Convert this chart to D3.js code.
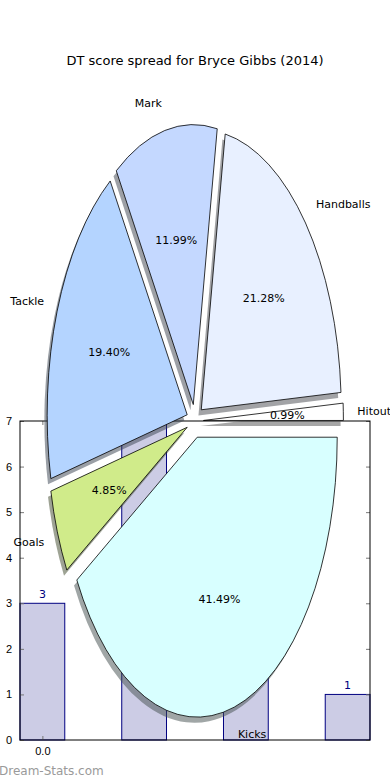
<!doctype html>
<html>
  <head>
    <meta charset="UTF-8">
    <title>DT score spread</title>
    <script src="https://d3js.org/d3.v7.min.js"></script>
    <style>
      body { margin: 0; background: #fff; }
      svg { display: block; font-family: "DejaVu Sans", sans-serif; }
      .tick text { font-size: 11px; fill: #000; }
      .tick line { stroke: #777; stroke-width: 1; }
    </style>
  </head>
  <body>
    <svg id="chart" width="390" height="780"></svg>
    <script>
      // Pie data (slice order as drawn, counter-clockwise from 3 o'clock)
      const sliceLabels = ["Hitout", "Handballs", "Mark", "Tackle", "Goals", "Kicks"];
      const slicePcts = [0.99, 21.28, 11.99, 19.40, 4.85, 41.49];
      const sliceColors = ["#ffffff", "#e8f0ff", "#c4d8ff", "#b4d4ff", "#d0eb8a", "#d8ffff"];

      // Background bar chart data
      const barX = [0, 1, 2, 3];
      const barValues = [3, 7, 4, 1];
      const yTicks = [0, 1, 2, 3, 4, 5, 6, 7];
      const xTicks = [0];

      const explode = 0.06;
      const svg = d3.select("#chart");

      // Title
      svg.append("text")
        .attr("x", 195).attr("y", 65)
        .attr("text-anchor", "middle")
        .style("font-size", "13px")
        .text("DT score spread for Bryce Gibbs (2014)");

      // ---- bar chart axes (sits underneath the pie) ----
      const axL = 20, axR = 370, axT = 421, axB = 740;
      const barW = 0.44;
      const x = d3.scaleLinear().domain([-barW / 2, 3 + barW / 2]).range([axL, axR]);
      const y = d3.scaleLinear().domain([0, 7]).range([axB, axT]);

      const bars = svg.append("g");
      bars.selectAll("rect")
        .data(barValues)
        .enter().append("rect")
          .attr("x", (d, i) => x(barX[i] - barW / 2))
          .attr("width", (d, i) => x(barX[i] + barW / 2) - x(barX[i] - barW / 2))
          .attr("y", d => y(Math.min(d, 7)))
          .attr("height", d => axB - y(Math.min(d, 7)))
          .attr("fill", "#ccccE5")
          .attr("stroke", "#000080")
          .attr("stroke-width", 1);

      bars.selectAll("text")
        .data(barValues)
        .enter().append("text")
          .attr("x", (d, i) => x(barX[i]))
          .attr("y", d => y(d) - 5)
          .attr("text-anchor", "middle")
          .attr("fill", "#000080")
          .style("font-size", "11px")
          .text(d => d);

      svg.append("g")
        .attr("transform", `translate(${axL},0)`)
        .call(d3.axisLeft(y).tickValues(yTicks).tickFormat(d3.format("d")).tickSizeInner(-4).tickSizeOuter(0).tickPadding(8))
        .call(g => g.select(".domain").remove());
      svg.append("g")
        .attr("transform", `translate(${axR},0)`)
        .call(d3.axisRight(y).tickValues(yTicks).tickFormat("").tickSizeInner(-4).tickSizeOuter(0))
        .call(g => g.select(".domain").remove());
      svg.append("g")
        .attr("transform", `translate(0,${axB})`)
        .call(d3.axisBottom(x).tickValues(xTicks).tickFormat(d3.format(".1f")).tickSizeInner(-4).tickSizeOuter(0).tickPadding(7))
        .call(g => g.select(".domain").remove());
      svg.append("g")
        .attr("transform", `translate(0,${axT})`)
        .call(d3.axisTop(x).tickValues(xTicks).tickFormat("").tickSizeInner(-4).tickSizeOuter(0))
        .call(g => g.select(".domain").remove());

      svg.append("rect")
        .attr("x", axL).attr("y", axT)
        .attr("width", axR - axL).attr("height", axB - axT)
        .attr("fill", "none").attr("stroke", "#000").attr("stroke-width", 1);

      // ---- pie (elliptical, not equal aspect) ----
      const rx = 140, ry = 280, cx = 195, cy = 421;
      const px = d3.scaleLinear().domain([-1, 1]).range([cx - rx, cx + rx]);
      const py = d3.scaleLinear().domain([-1, 1]).range([cy + ry, cy - ry]);

      const pie = d3.pie().sort(null)
        .startAngle(Math.PI / 2)
        .endAngle(Math.PI / 2 - 2 * Math.PI);
      const arcs = pie(slicePcts);
      const arc = d3.arc().innerRadius(0).outerRadius(1);

      // convert d3 angle (clockwise from north) to math angle
      const mid = a => Math.PI / 2 - (a.startAngle + a.endAngle) / 2;
      const centre = a => {
        const t = mid(a);
        return [explode * Math.cos(t), explode * Math.sin(t)];
      };

      const pieG = svg.append("g");

      // shadows first (matplotlib draws them below every wedge)
      pieG.selectAll("path.shadow")
        .data(arcs)
        .enter().append("path")
          .attr("class", "shadow")
          .attr("d", arc)
          .attr("transform", d => {
            const c = centre(d);
            return `translate(${px(c[0] - 0.02)},${py(c[1] - 0.02)}) scale(${rx},${ry})`;
          })
          .attr("fill", (d, i) => {
            const c = d3.rgb(sliceColors[i]);
            return d3.rgb(c.r * 0.3, c.g * 0.3, c.b * 0.3);
          })
          .attr("fill-opacity", 0.5);

      pieG.selectAll("path.wedge")
        .data(arcs)
        .enter().append("path")
          .attr("class", "wedge")
          .attr("d", arc)
          .attr("transform", d => {
            const c = centre(d);
            return `translate(${px(c[0])},${py(c[1])}) scale(${rx},${ry})`;
          })
          .attr("fill", (d, i) => sliceColors[i])
          .attr("stroke", "#000")
          .attr("stroke-width", 0.8)
          .attr("vector-effect", "non-scaling-stroke");

      // outer labels
      pieG.selectAll("text.lab")
        .data(arcs)
        .enter().append("text")
          .attr("class", "lab")
          .attr("x", d => { const c = centre(d); return px(c[0] + 1.1 * Math.cos(mid(d))); })
          .attr("y", d => { const c = centre(d); return py(c[1] + 1.1 * Math.sin(mid(d))); })
          .attr("dy", "0.35em")
          .attr("text-anchor", d => Math.cos(mid(d)) > 0 ? "start" : "end")
          .style("font-size", "11px")
          .text((d, i) => sliceLabels[i]);

      // percentage labels
      pieG.selectAll("text.pct")
        .data(arcs)
        .enter().append("text")
          .attr("class", "pct")
          .attr("x", d => { const c = centre(d); return px(c[0] + 0.6 * Math.cos(mid(d))); })
          .attr("y", d => { const c = centre(d); return py(c[1] + 0.6 * Math.sin(mid(d))); })
          .attr("dy", "0.35em")
          .attr("text-anchor", "middle")
          .style("font-size", "11px")
          .text((d, i) => slicePcts[i].toFixed(2) + "%");

      // watermark
      svg.append("text")
        .attr("x", -1).attr("y", 775)
        .attr("fill", "#9a9a9a")
        .style("font-size", "12px")
        .text("Dream-Stats.com");
    </script>
  </body>
</html>
